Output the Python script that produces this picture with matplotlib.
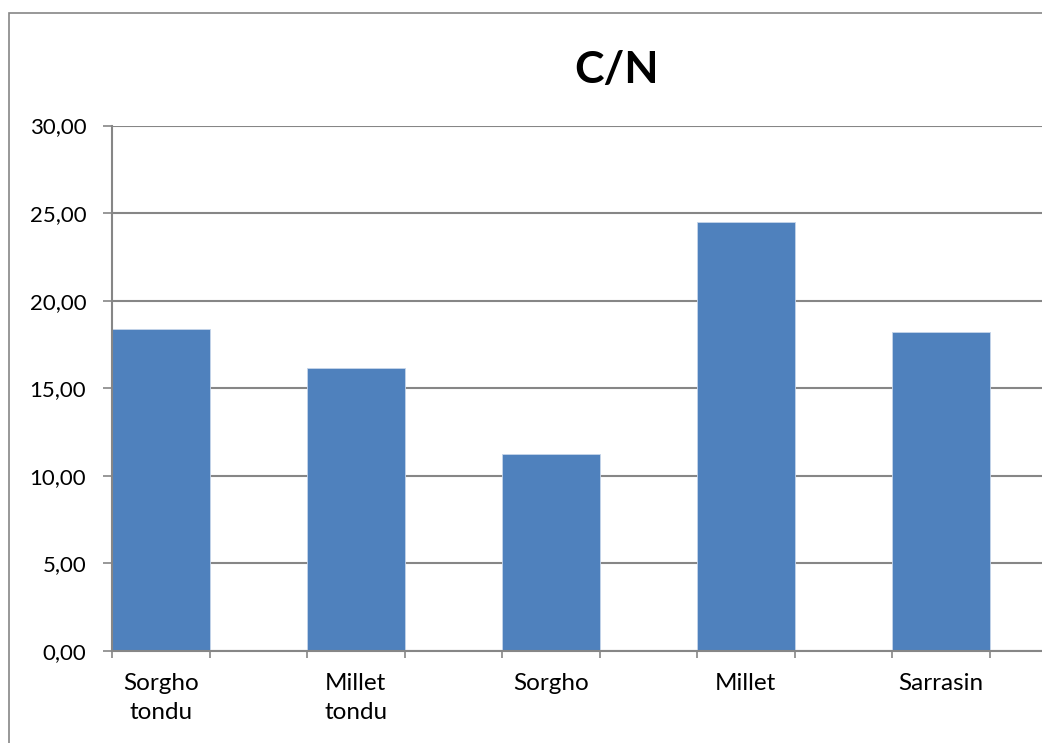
import matplotlib.pyplot as plt
import numpy as np
from matplotlib.patches import Rectangle
from matplotlib.ticker import FixedLocator

plt.rcParams['font.family'] = ['Lato', 'DejaVu Sans']

# C/N ratio per crop
categories = ['Sorgho\ntondu', 'Millet\ntondu', 'Sorgho', 'Millet', 'Sarrasin']
cn_ratio = [18.38, 16.15, 11.27, 24.49, 18.23]
y_ticks = [0, 5, 10, 15, 20, 25, 30]

grey = '#868686'
blue = '#4F81BD'

fig = plt.figure(figsize=(10.42, 7.43), dpi=100)

# outer chart frame (runs off the right and bottom edges)
fig.patches.append(Rectangle((9 / 1042, -0.1), 1.2, 1 - 13 / 743 + 0.1,
                             transform=fig.transFigure, fill=False,
                             edgecolor=grey, linewidth=1.2))

ax = fig.add_axes([112 / 1042, 92 / 743, 975 / 1042, 525.5 / 743])

x = np.arange(len(categories))
ax.bar(x, cn_ratio, width=0.5, color=blue, edgecolor='#C6D5EA',
       linewidth=0.6, zorder=3)

ax.set_xlim(-0.25, len(categories) - 0.25)
ax.set_ylim(0, 30)

# y axis
ax.set_yticks(y_ticks)
ax.set_yticklabels([f'{v:.2f}'.replace('.', ',') for v in y_ticks])
ax.yaxis.grid(True, color=grey, linewidth=1.5, zorder=0)
ax.tick_params(axis='y', direction='out', length=6.5, width=1.2,
               color=grey, labelsize=16, pad=12)

# x axis: labels at bar centres, tick marks at bar edges
ax.set_xticks(x)
ax.set_xticklabels(categories, linespacing=1.45)
ax.xaxis.set_minor_locator(FixedLocator(np.arange(-0.25, len(categories), 0.5)))
ax.tick_params(axis='x', which='major', length=0, labelsize=17.5, pad=16)
ax.tick_params(axis='x', which='minor', direction='out', length=5,
               width=1.2, color=grey)

for side in ['top', 'right']:
    ax.spines[side].set_visible(False)
for side in ['left', 'bottom']:
    ax.spines[side].set_color(grey)
    ax.spines[side].set_linewidth(1.5)
    ax.spines[side].set_zorder(4)

fig.text(617 / 1042, 1 - 70 / 743, 'C/N', ha='center', va='center',
         fontsize=32, fontweight='bold')

fig.savefig('out.png', dpi=100)
